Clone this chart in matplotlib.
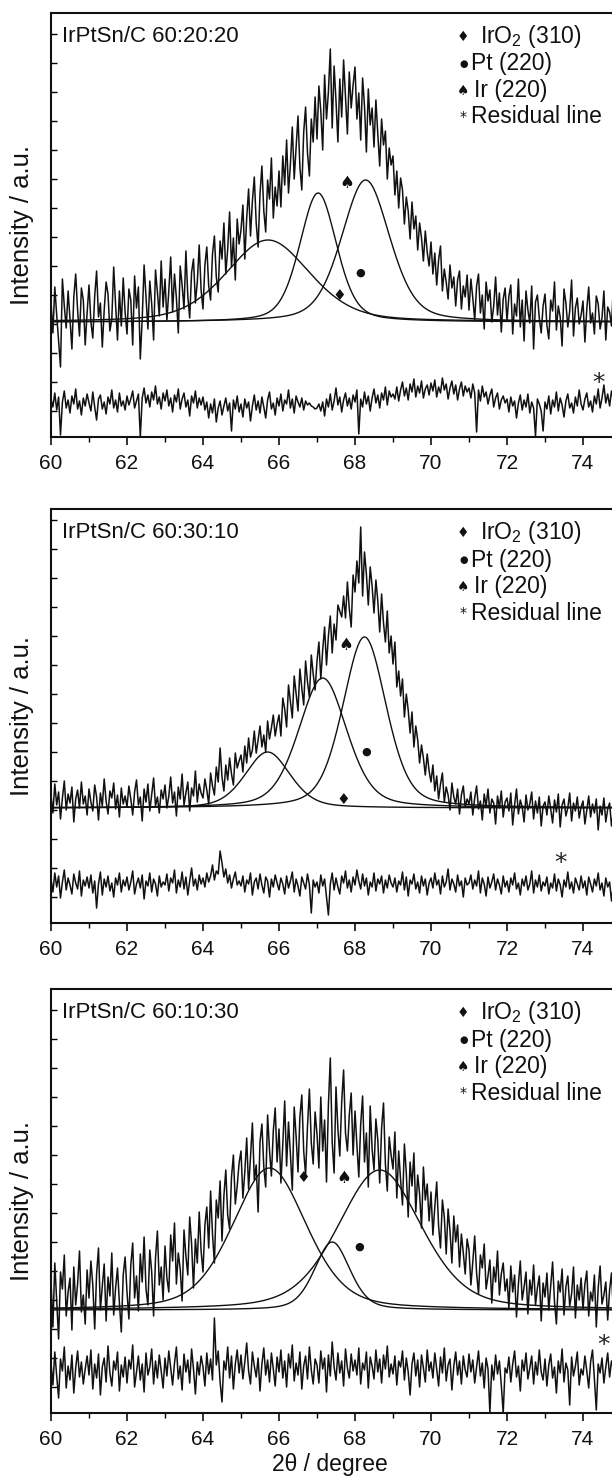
import numpy as np
import matplotlib.pyplot as plt

plt.rcParams['font.family'] = ['Liberation Sans', 'DejaVu Sans']
plt.rcParams['mathtext.fontset'] = 'custom'
plt.rcParams['mathtext.rm'] = 'Liberation Sans'
plt.rcParams['mathtext.it'] = 'Liberation Sans'

# 2theta grid of the measured scans
two_theta = np.round(np.arange(60, 75.001, 0.05), 2)

titles = ["IrPtSn/C 60:20:20", "IrPtSn/C 60:30:10", "IrPtSn/C 60:10:30"]
legend_labels = ["IrO$_2$ (310)", "Pt (220)", "Ir (220)", "Residual line"]
legend_symbols = ["\u2666", "\u25cf", "\u2660", "*"]

# measured intensity (a.u.)
p1_data = [
    135, 104, 150, 122, 96, 70, 158, 131, 109, 146, 118, 88, 140, 163, 127, 101, 149, 137, 92, 124,
    152, 115, 99, 141, 166, 120, 134, 90, 127, 155, 143, 106, 118, 170, 132, 97, 146, 111, 159, 125,
    103, 148, 137, 92, 161, 129, 150, 78, 118, 172, 140, 108, 156, 133, 97, 167, 145, 121, 176, 130,
    158, 117, 146, 180, 125, 163, 139, 104, 171, 152, 128, 186, 141, 119, 165, 178, 134, 155, 192, 147,
    128, 172, 190, 151, 137, 183, 201, 160, 145, 196, 178, 214, 163, 188, 225, 170, 199, 157, 218, 193,
    207, 232, 178, 219, 248, 201, 236, 260, 214, 190, 243, 271, 226, 205, 257, 238, 279, 219, 250, 231,
    266, 230, 281, 252, 297, 244, 273, 310, 258, 289, 321, 270, 247, 305, 330, 284, 261, 318, 295, 340,
    298, 351, 326, 287, 362, 318, 345, 388, 309, 371, 336, 295, 358, 320, 377, 341, 303, 365, 329, 352,
    370, 318, 344, 297, 359, 331, 285, 348, 312, 329, 290, 337, 303, 271, 318, 292, 306, 258, 289, 272,
    281, 242, 266, 229, 259, 247, 213, 240, 226, 198, 235, 208, 221, 187, 214, 199, 176, 206, 185, 171,
    195, 163, 184, 152, 177, 191, 146, 168, 155, 138, 172, 149, 160, 131, 157, 166, 128, 151, 140, 162,
    127, 158, 139, 117, 151, 163, 124, 142, 108, 155, 136, 147, 115, 131, 160, 122, 144, 105, 138, 149,
    116, 141, 152, 103, 133, 121, 158, 110, 137, 96, 146, 127, 114, 151, 88, 135, 142, 119, 104, 131,
    143, 112, 98, 137, 126, 155, 107, 131, 120, 91, 148, 134, 110, 126, 157, 101, 129, 139, 113, 122,
    136, 95, 128, 150, 114, 124, 103, 141, 133, 108, 119, 146, 97, 130, 125, 111, 152, 118, 84, 127, 121,
]
p1_resid = [
    38, 30, 44, 27, 40, 2, 35, 46, 29, 37, 24, 41, 33, 48, 28, 36, 22, 39, 31, 43,
    34, 26, 45, 30, 17, 38, 42, 28, 35, 23, 40, 33, 47, 29, 37, 25, 44, 31, 36, 27,
    41, 32, 38, 46, 29, 36, 43, 0, 39, 49, 34, 42, 30, 45, 37, 51, 33, 40, 28, 44,
    36, 47, 31, 39, 25, 42, 35, 48, 28, 38, 44, 30, 37, 21, 41, 34, 46, 29, 39, 32,
    40, 27, 35, 19, 33, 24, 38, 15, 29, 36, 22, 31, 39, 26, 34, 6, 37, 28, 41, 25,
    33, 20, 38, 29, 35, 16, 31, 42, 27, 36, 24, 40, 30, 19, 37, 45, 28, 34, 22, 39,
    31, 43, 26, 37, 33, 47, 29, 38, 24, 41, 35, 30, 39, 27, 36, 32, 34, 31, 30, 28,
    29, 33, 26, 35, 21, 38, 30, 43, 27, 36, 49, 32, 40, 25, 37, 44, 31, 39, 28, 42,
    35, 47, 3, 38, 30, 45, 33, 41, 26, 39, 48, 34, 42, 29, 44, 37, 50, 32, 46, 40,
    43, 38, 50, 36, 47, 55, 41, 49, 37, 53, 45, 58, 40, 51, 44, 56, 39, 48, 52, 42,
    54, 46, 57, 40, 50, 44, 59, 47, 53, 38, 49, 56, 43, 52, 37, 48, 55, 41, 51, 45,
    49, 39, 53, 44, 5, 47, 36, 51, 40, 45, 33, 42, 48, 30, 39, 44, 28, 37, 41, 34,
    38, 25, 40, 31, 36, 19, 34, 42, 27, 37, 30, 43, 24, 35, 29, 1, 38, 33, 26, 6,
    35, 28, 41, 23, 37, 30, 45, 26, 39, 32, 20, 36, 43, 29, 34, 24, 40, 31, 47, 33,
    27, 38, 44, 30, 36, 25, 41, 33, 48, 29, 39, 52, 34, 43, 31, 46, 37, 26, 4, 35, 30,
]
p2_data = [
    128, 110, 139, 118, 131, 104, 125, 142, 113, 129, 120, 136, 101, 124, 133, 115, 141, 119, 127, 108,
    134, 121, 112, 138, 126, 103, 130, 117, 144, 122, 109, 132, 125, 140, 114, 128, 106, 135, 119, 127,
    116, 137, 124, 108, 131, 143, 118, 126, 102, 134, 121, 139, 112, 129, 145, 117, 126, 110, 133, 124,
    138, 115, 127, 146, 120, 131, 107, 136, 124, 149, 118, 130, 141, 112, 135, 127, 152, 121, 139, 130,
    125, 144, 133, 119, 150, 137, 128, 156, 141, 175, 146, 132, 158, 143, 165, 149, 138, 170, 155, 162,
    168, 151, 177, 160, 185, 166, 173, 192, 170, 183, 197, 176, 188, 171, 202, 184, 195, 208, 187, 199,
    208, 187, 225, 214, 196, 238, 221, 205, 247, 229, 212, 254, 235, 218, 262, 241, 226, 268, 249, 233,
    262, 281, 244, 273, 296, 258, 287, 307, 270, 299, 283, 318, 312, 306, 327, 305, 341, 314, 296, 348,
    331, 362, 340, 396, 327, 371, 349, 318, 356, 337, 310, 343, 322, 291, 329, 300, 281, 312, 270, 287,
    259, 281, 236, 252, 227, 244, 206, 229, 213, 190, 211, 176, 197, 183, 160, 178, 165, 148, 169, 152,
    141, 158, 132, 147, 124, 139, 150, 121, 136, 128, 113, 140, 126, 119, 134, 109, 128, 137, 116, 124,
    119, 131, 108, 125, 137, 114, 122, 103, 129, 117, 134, 110, 124, 120, 99, 127, 115, 132, 106, 121,
    125, 112, 130, 98, 118, 134, 109, 123, 116, 101, 128, 113, 119, 131, 104, 122, 110, 126, 97, 117,
    121, 108, 127, 114, 100, 123, 111, 129, 96, 118, 124, 107, 115, 130, 102, 120, 112, 126, 105, 116,
    122, 99, 113, 127, 106, 119, 110, 124, 93, 117, 108, 125, 101, 114, 120, 97, 111, 123, 104, 115, 109,
]
p2_resid = [
    44, 31, 50, 36, 47, 25, 41, 53, 33, 45, 38, 29, 49, 40, 34, 52, 27, 43, 37, 46,
    35, 48, 30, 42, 15, 39, 51, 28, 44, 36, 47, 32, 40, 26, 45, 38, 50, 31, 43, 37,
    46, 33, 41, 52, 29, 39, 45, 35, 48, 24, 42, 37, 50, 31, 44, 39, 27, 47, 36, 41,
    38, 49, 32, 45, 40, 53, 30, 43, 36, 51, 34, 46, 28, 42, 55, 37, 44, 33, 48, 39,
    45, 36, 50, 41, 47, 58, 43, 52, 49, 72, 60, 46, 54, 40, 48, 35, 44, 51, 38, 42,
    37, 47, 31, 43, 39, 50, 28, 41, 45, 34, 49, 38, 30, 46, 42, 26, 44, 36, 48, 40,
    33, 45, 39, 29, 47, 35, 42, 51, 31, 44, 37, 27, 46, 40, 34, 49, 38, 10, 43, 36,
    41, 30, 48, 37, 44, 26, 8, 39, 50, 33, 45, 36, 29, 47, 40, 52, 35, 43, 31, 46,
    38, 53, 42, 34, 49, 37, 45, 28, 41, 36, 50, 32, 44, 39, 47, 30, 43, 35, 48, 40,
    36, 45, 31, 42, 38, 51, 33, 46, 27, 43, 39, 49, 34, 41, 30, 47, 37, 44, 28, 40,
    45, 35, 50, 38, 43, 29, 47, 36, 41, 54, 33, 44, 39, 31, 48, 37, 42, 26, 45, 38,
    40, 48, 34, 43, 37, 52, 30, 45, 39, 27, 46, 35, 41, 49, 33, 44, 38, 29, 47, 36,
    42, 31, 45, 38, 50, 34, 40, 28, 44, 37, 47, 33, 39, 52, 30, 43, 36, 48, 32, 41,
    37, 46, 29, 40, 35, 49, 32, 44, 38, 26, 43, 36, 51, 34, 41, 30, 45, 39, 33, 47,
    35, 42, 28, 46, 39, 31, 44, 37, 50, 33, 40, 27, 45, 36, 41, 22, 38, 43, 30, 39, 34,
]
p3_data = [
    132, 86, 150, 112, 74, 141, 124, 158, 97, 121, 135, 83, 146, 108, 129, 162, 101, 118, 89, 143,
    115, 152, 128, 84, 139, 165, 103, 127, 149, 92, 136, 117, 160, 98, 125, 145, 110, 81, 138, 156,
    121, 94, 148, 170, 115, 137, 102, 159, 131, 176, 124, 108, 163, 141, 97, 155, 182, 128, 146, 113,
    167, 135, 121, 178, 152, 190, 129, 160, 144, 112, 183, 157, 138, 196, 169, 125, 174, 150, 201, 162,
    141, 188, 206, 165, 222, 179, 150, 213, 195, 232, 172, 217, 243, 198, 184, 236, 258, 209, 227, 250,
    262, 215, 241, 275, 224, 256, 290, 233, 248, 201, 271, 289, 246, 226, 298, 263, 237, 282, 305, 251,
    284, 230, 269, 312, 247, 291, 259, 223, 306, 277, 241, 296, 318, 262, 238, 287, 324, 270, 249, 301,
    279, 245, 316, 262, 293, 231, 308, 355, 271, 240, 326, 284, 257, 311, 343, 280, 262, 298, 320, 258,
    302, 268, 236, 289, 317, 251, 280, 226, 307, 264, 243, 294, 273, 230, 285, 310, 249, 222, 276, 258,
    244, 281, 215, 262, 233, 208, 269, 240, 196, 251, 227, 260, 201, 238, 219, 185, 246, 213, 229, 192,
    221, 178, 206, 231, 187, 165, 213, 196, 159, 204, 182, 150, 197, 171, 188, 146, 179, 160, 139, 174,
    163, 128, 151, 177, 140, 119, 158, 145, 169, 124, 137, 153, 110, 146, 131, 162, 118, 139, 150, 122,
    134, 105, 147, 121, 138, 96, 129, 152, 113, 126, 141, 99, 133, 118, 148, 108, 125, 137, 92, 130,
    116, 140, 103, 127, 151, 111, 89, 132, 121, 144, 98, 126, 137, 107, 119, 146, 95, 128, 113, 135,
    104, 129, 142, 97, 121, 112, 138, 86, 125, 147, 109, 118, 131, 93, 123, 140, 101, 117, 134, 99, 115,
]
p3_resid = [
    50, 28, 61, 37, 15, 54, 42, 66, 25, 47, 33, 58, 20, 45, 62, 36, 51, 29, 44, 57,
    38, 63, 24, 49, 35, 59, 18, 46, 55, 31, 67, 40, 27, 52, 43, 61, 22, 48, 36, 56,
    30, 53, 44, 68, 26, 41, 57, 33, 49, 21, 60, 38, 46, 64, 29, 52, 35, 58, 42, 25,
    55, 37, 62, 45, 28, 50, 66, 34, 47, 23, 59, 41, 53, 30, 64, 44, 19, 51, 38, 57,
    46, 27, 60, 39, 54, 33, 95, 48, 62, 31, 11, 52, 43, 66, 35, 57, 24, 49, 63, 40,
    58, 34, 51, 70, 42, 29, 61, 47, 36, 55, 22, 49, 65, 38, 53, 31, 60, 44, 27, 56,
    41, 63, 35, 52, 26, 59, 45, 68, 32, 50, 38, 61, 24, 47, 57, 34, 66, 43, 29, 54,
    48, 30, 62, 44, 55, 21, 58, 37, 71, 46, 33, 60, 40, 52, 27, 64, 45, 35, 59, 42,
    53, 38, 65, 29, 50, 43, 61, 25, 56, 47, 34, 63, 41, 54, 30, 58, 44, 67, 36, 49,
    39, 57, 28, 52, 46, 62, 33, 55, 41, 18, 49, 60, 37, 53, 26, 58, 45, 31, 63, 42,
    51, 35, 60, 44, 27, 56, 40, 65, 32, 48, 54, 23, 47, 61, 38, 52, 29, 57, 43, 36,
    59, 41, 53, 30, 46, 62, 37, 50, 25, 55, 44, 0, 48, 33, 58, 39, 52, 28, 0, 45,
    40, 56, 31, 49, 62, 36, 47, 22, 53, 42, 60, 34, 45, 57, 29, 51, 38, 63, 41, 33,
    54, 27, 48, 59, 35, 46, 20, 52, 40, 64, 31, 50, 43, 8, 56, 37, 47, 61, 28, 44,
    38, 57, 42, 25, 51, 63, 34, 3, 49, 40, 55, 30, 46, 60, 36, 52, 44, 27, 58, 39, 47,
]

# fitted components (IrO2, Pt, Ir): centre / height / fwhm, plus fit baseline
p1_centres, p1_heights, p1_fwhm = [65.71, 67.03, 68.28], [82, 129, 142], [2.6, 1.15, 1.5]
p2_centres, p2_heights, p2_fwhm = [65.70, 67.15, 68.25], [56, 130, 171], [1.4, 1.5, 1.35]
p3_centres, p3_heights, p3_fwhm = [65.75, 67.40, 68.65], [142, 68, 140], [2.3, 1.1, 2.6]
baselines = [115, 115, 103]

# peak markers: x, y for diamond, dot, spade, residual asterisk
p1_marks = [(67.58, 141), (68.15, 164), (67.78, 254), (74.40, 54)]
p2_marks = [(67.70, 123), (68.30, 171), (67.75, 278), (73.40, 60)]
p3_marks = [(66.65, 235), (68.10, 166), (67.70, 235), (74.55, 68)]


def pvoigt(x, c, h, w, eta=0.35):
    d = (x - c) / w
    return h * (eta / (1 + 4 * d ** 2) + (1 - eta) * np.exp(-4 * np.log(2) * d ** 2))


panels = [
    (p1_data, p1_resid, p1_centres, p1_heights, p1_fwhm, p1_marks),
    (p2_data, p2_resid, p2_centres, p2_heights, p2_fwhm, p2_marks),
    (p3_data, p3_resid, p3_centres, p3_heights, p3_fwhm, p3_marks),
]
# axes boxes in pixels (top, bottom) of the 612x1476 figure
boxes = [(13, 437), (509, 923), (989, 1413)]

W, H = 612, 1476
fig = plt.figure(figsize=(W / 100, H / 100), dpi=100)
ink = "#111111"
xf = np.linspace(60, 75, 900)

for i, (data, resid, cen, hei, fw, marks) in enumerate(panels):
    top, bot = boxes[i]
    ax = fig.add_axes([51 / W, 1 - bot / H, 570 / W, (bot - top) / H])
    ax.set_xlim(60, 75)
    ax.set_ylim(0, bot - top)

    ax.plot(two_theta, data, color=ink, lw=1.1)
    ax.plot(two_theta, resid, color=ink, lw=1.1)
    for c, h, w in zip(cen, hei, fw):
        ax.plot(xf, baselines[i] + pvoigt(xf, c, h, w), color=ink, lw=1.0)

    # symbols on the peaks
    sizes = [11, 8, 12]
    for (mx, my), sym, s in zip(marks[:3], legend_symbols[:3], sizes):
        ax.text(mx, my, sym, ha="center", va="center", fontsize=s,
                family="DejaVu Sans", color=ink, zorder=5)
    ax.text(marks[3][0], marks[3][1], "*", ha="center", va="center",
            fontsize=18, color="#222222", family="DejaVu Sans")

    ax.text(60.3, (bot - top) - 24, titles[i], ha="left", va="center", fontsize=16, color=ink)

    leg_y = [(bot - top) - 24, (bot - top) - 51, (bot - top) - 78, (bot - top) - 104]
    leg_sym_size = [10, 7, 10, 10]
    leg_x = [71.30, 71.05, 71.12, 71.05]
    for y, sym, lab, s, lx in zip(leg_y, legend_symbols, legend_labels, leg_sym_size, leg_x):
        ax.text(70.85, y, sym, ha="center", va="center", fontsize=s,
                family="DejaVu Sans", color=ink)
        ax.text(lx, y, lab, ha="left", va="center", fontsize=16.5, color=ink)

    ax.set_xticks(np.arange(60, 75, 2))
    ax.set_xticks(np.arange(61, 75, 2), minor=True)
    ax.tick_params(axis="x", which="major", direction="out", length=6, width=1.2,
                   labelsize=15, pad=6, colors=ink)
    ax.tick_params(axis="x", which="minor", direction="out", length=3.5, width=1.0)
    ax.set_yticks(np.arange(26, bot - top, 29))
    ax.tick_params(axis="y", which="major", direction="in", length=4, width=1.0, labelleft=False)
    for sp in ax.spines.values():
        sp.set_linewidth(1.5)
        sp.set_color(ink)

    fig.text(22 / W, 1 - (top + bot) / 2 / H, "Intensity / a.u.", rotation=90,
             ha="center", va="center", fontsize=18.5, color=ink)

fig.text(330 / W, 1 - 1465 / H, "2\u03b8 / degree", ha="center", va="center", fontsize=16.5, color=ink)

fig.savefig("out.png", dpi=100)
